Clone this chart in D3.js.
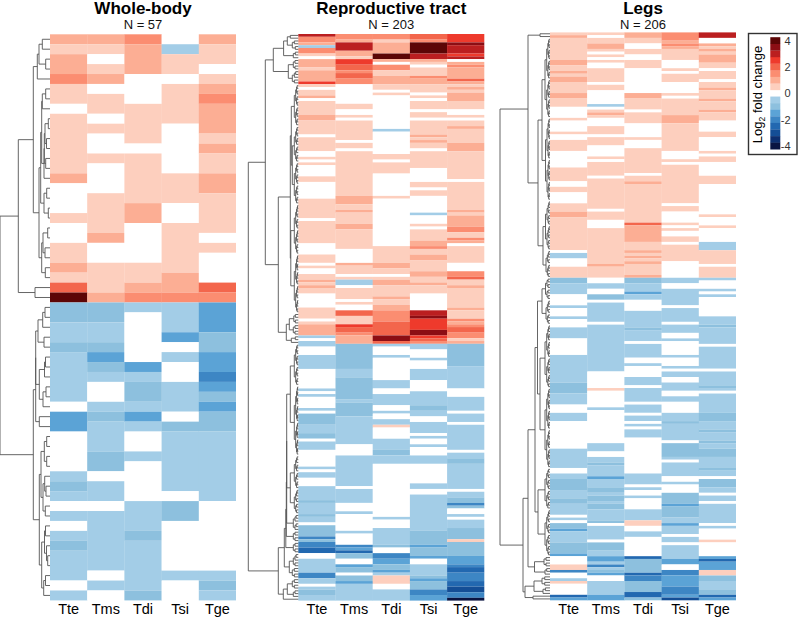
<!DOCTYPE html>
<html><head><meta charset="utf-8">
<script src="https://cdn.jsdelivr.net/npm/d3@7/dist/d3.min.js"></script>
<style>html,body{margin:0;padding:0;background:#fff}svg{display:block}text{font-family:"Liberation Sans",Arial,sans-serif}</style>
</head><body><svg id="c" width="798" height="618"></svg>
<script>
const samples=["Tte","Tms","Tdi","Tsi","Tge"];
const titles=["Whole-body","Reproductive tract","Legs"];
const counts=[57,203,206];
// values are log2 fold change in half units (2 = log2FC of 1)
const wbTte=[2,1,2,2,3,1,1,0,1,1,1,1,1,1,2,0,0,0,1,0,0,1,1,2,1,4,8,-2,-2,-1,-1,-2,-1,-1,-1,-1,-1,0,-3,-3,0,0,0,0,-1,-2,-1,0,-1,0,-1,-2,-1,-1,-1,0,-1];
const wbTms=[2,1,0,1,2,0,1,1,0,1,0,0,1,0,0,0,1,1,1,1,2,0,0,1,1,1,2,-2,-2,-1,-1,-2,-3,-2,-1,0,0,-1,-2,-1,-1,-1,-2,-2,0,-1,-1,0,-1,-1,-1,-1,-1,-1,0,-1,0];
const wbTdi=[3,2,2,2,0,0,0,1,1,1,1,0,1,1,1,1,1,2,2,0,0,0,0,1,1,2,3,-1,0,0,0,0,0,-3,-1,-2,-2,-1,-3,-1,0,0,-1,0,0,0,0,-1,-1,-1,-2,-1,-1,-1,-1,-1,-2];
const wbTsi=[0,-1,1,1,0,1,1,1,1,0,0,0,0,0,1,1,1,0,0,1,1,1,1,1,2,2,3,-1,-1,-1,-3,0,-1,0,0,-1,-1,-1,0,-2,-1,-1,-1,-1,-1,-1,0,-2,-2,0,0,0,0,0,-1,0,0];
const wbTge=[2,1,1,0,1,2,3,2,2,2,1,2,1,1,2,2,1,1,1,1,0,1,0,0,0,4,3,-3,-3,-3,-2,-2,-3,-3,-4,-3,-2,-3,-2,-2,-1,-1,-1,-1,-1,-1,-1,0,0,0,0,0,0,0,-1,-2,-1];
// [first row, value] runs, each run lasts until the next one starts
const rtTte=[[0,6],[1,3],[3,2],[4,-1],[5,3],[7,1],[8,0],[9,2],[12,1],[13,2],[17,5],[18,1],[19,0],[20,1],[22,2],[23,0],[24,1],[29,2],[31,1],[36,0],[37,1],[42,0],[44,1],[45,0],[46,1],[47,0],[51,1],[53,0],[59,1],[66,0],[67,1],[75,0],[79,1],[82,0],[83,1],[84,0],[86,1],[88,2],[89,1],[90,2],[91,1],[93,0],[98,1],[102,0],[103,1],[104,2],[108,-1],[109,0],[110,-1],[112,0],[115,-1],[120,0],[127,-1],[128,0],[129,-1],[130,0],[134,-1],[135,0],[136,-2],[140,-1],[143,-2],[145,0],[146,-1],[149,0],[155,-1],[156,0],[157,-1],[159,0],[162,-1],[167,-2],[168,-1],[172,-2],[173,-1],[175,0],[176,-2],[180,-4],[181,-2],[182,-4],[184,-5],[186,0],[188,-1],[193,-4],[195,-1],[197,0],[198,-1],[199,-2],[201,-1]];
const rtTms=[[0,3],[2,2],[3,6],[6,2],[8,1],[9,5],[11,4],[13,3],[14,4],[16,3],[18,0],[25,1],[27,0],[29,1],[30,0],[31,1],[38,0],[39,1],[41,0],[42,1],[58,2],[61,1],[63,2],[64,1],[68,2],[70,1],[77,0],[82,2],[83,1],[86,0],[87,1],[88,-1],[90,0],[91,1],[95,0],[96,1],[97,0],[99,4],[101,1],[104,5],[105,4],[107,3],[108,2],[111,-2],[120,-1],[123,-2],[131,-1],[132,-2],[137,-1],[147,0],[151,-1],[162,0],[163,-1],[168,0],[171,-1],[172,0],[178,-1],[179,0],[183,-4],[184,-3],[185,-5],[186,-2],[188,0],[190,-3],[191,-2],[193,0],[194,-2],[196,-3],[197,-1]];
const rtTdi=[[0,3],[2,1],[3,2],[7,8],[9,2],[10,0],[11,3],[13,1],[15,2],[18,1],[20,0],[21,1],[22,0],[34,-1],[35,0],[43,1],[45,0],[46,1],[50,0],[58,1],[59,0],[76,1],[82,2],[84,1],[86,0],[87,1],[88,2],[90,1],[94,2],[95,1],[97,2],[99,3],[103,4],[108,7],[110,4],[111,-1],[112,0],[115,-1],[116,0],[124,-1],[127,0],[129,-1],[133,0],[135,-1],[136,0],[138,-1],[140,1],[141,0],[145,-1],[149,-2],[151,-1],[154,0],[173,-1],[174,0],[177,-1],[183,-2],[184,0],[186,-4],[188,-3],[190,-2],[192,-3],[193,-1],[194,1],[197,0],[199,-1]];
const rtTsi=[[0,4],[2,3],[3,8],[7,6],[9,2],[10,1],[11,0],[12,1],[15,3],[16,2],[18,1],[21,0],[22,1],[23,0],[24,1],[27,0],[28,1],[30,0],[31,1],[36,2],[37,1],[38,2],[39,1],[41,0],[42,1],[48,0],[53,1],[55,0],[56,1],[58,0],[64,-1],[65,0],[68,1],[69,0],[70,1],[74,2],[76,3],[77,1],[79,2],[81,1],[85,2],[87,1],[89,2],[90,1],[93,0],[99,6],[101,7],[102,5],[106,7],[108,5],[109,4],[110,3],[111,-1],[113,0],[116,-1],[117,0],[120,-1],[124,0],[128,-1],[133,-2],[135,-1],[137,0],[139,-1],[143,0],[144,-1],[145,0],[147,-1],[148,0],[151,-1],[154,0],[161,-1],[163,0],[165,-1],[178,-2],[183,-3],[184,-2],[187,-3],[188,0],[190,-1],[194,-2],[195,-3],[196,-2],[199,-4],[201,-3]];
const rtTge=[[0,5],[3,7],[4,6],[7,5],[8,6],[9,0],[10,2],[11,3],[12,2],[16,4],[17,2],[18,1],[19,2],[20,1],[21,2],[24,1],[27,0],[29,1],[30,0],[31,1],[33,2],[34,1],[39,2],[42,1],[52,0],[53,1],[63,2],[64,1],[65,2],[69,3],[71,1],[73,3],[74,2],[75,0],[76,1],[82,0],[85,3],[87,4],[88,1],[90,2],[91,1],[98,2],[99,1],[102,3],[103,2],[104,3],[105,4],[107,3],[109,1],[110,2],[111,-2],[119,-1],[127,0],[130,-1],[135,0],[136,-1],[139,0],[140,-1],[149,0],[150,-1],[152,-2],[154,-1],[163,0],[164,-1],[166,-2],[168,-4],[169,-2],[170,0],[172,-1],[173,0],[174,-1],[177,-2],[181,1],[182,-2],[187,-3],[190,-4],[191,-5],[193,-4],[196,-5],[198,-6],[200,-4],[202,-8]];
const lgTte=[[0,1],[1,2],[2,1],[10,2],[12,1],[14,2],[15,1],[16,2],[18,1],[22,2],[24,1],[27,0],[31,1],[32,0],[36,1],[37,0],[39,1],[43,0],[49,1],[54,0],[56,1],[58,0],[62,1],[65,2],[67,1],[79,0],[80,-1],[82,0],[85,1],[89,-2],[91,-1],[95,0],[99,-1],[100,0],[103,-1],[104,0],[107,-1],[111,0],[117,-1],[127,-2],[131,-1],[135,0],[138,-1],[141,0],[151,-1],[158,0],[160,-1],[162,-2],[166,-1],[169,-2],[171,-1],[175,0],[176,-1],[177,0],[178,-2],[180,-3],[181,-1],[185,-2],[189,-3],[190,0],[193,1],[195,-4],[196,0],[198,-1],[199,1],[200,0],[204,-5],[205,-3]];
const lgTms=[[0,1],[1,0],[2,1],[4,2],[6,1],[7,0],[8,1],[9,0],[10,1],[11,0],[13,1],[18,0],[19,1],[21,0],[26,-1],[27,0],[28,1],[29,2],[30,1],[31,0],[34,1],[37,0],[38,1],[41,0],[45,1],[46,0],[47,1],[52,0],[53,1],[64,0],[65,1],[68,0],[71,1],[84,2],[85,1],[89,0],[91,-1],[93,0],[95,-2],[97,0],[98,-1],[105,0],[106,-1],[123,0],[129,1],[130,0],[136,-1],[137,0],[149,-1],[152,0],[154,-1],[156,-2],[157,-1],[161,-3],[162,-1],[165,-2],[167,-1],[168,-2],[170,-1],[171,-2],[173,-1],[177,-2],[178,0],[179,-1],[184,0],[185,-2],[188,-1],[190,-3],[192,-1],[193,-4],[194,-1],[195,-2],[196,-3],[197,0],[199,-1],[204,-3]];
const lgTdi=[[0,2],[2,1],[4,0],[6,1],[8,0],[10,1],[13,0],[22,2],[24,1],[28,0],[29,1],[33,0],[38,1],[39,0],[42,1],[51,0],[52,1],[54,2],[55,1],[69,4],[70,2],[76,1],[79,2],[80,1],[81,2],[82,1],[83,2],[84,1],[88,2],[89,-2],[91,-1],[94,-3],[95,-1],[97,0],[101,-1],[107,-2],[108,-1],[112,0],[113,-1],[118,0],[120,-1],[121,0],[125,-1],[128,0],[129,-1],[134,0],[135,-1],[138,0],[139,-1],[141,0],[142,-1],[143,0],[144,-1],[147,0],[160,-1],[164,0],[165,-1],[166,0],[168,-1],[169,0],[173,-1],[177,1],[179,0],[181,-1],[183,0],[190,-5],[191,-2],[196,-5],[197,-4],[199,-2],[203,-5],[205,-2]];
const lgTsi=[[0,3],[3,2],[4,3],[5,2],[6,1],[10,0],[13,1],[14,0],[15,1],[18,0],[22,1],[23,0],[24,1],[30,2],[33,1],[43,0],[46,1],[47,0],[48,1],[62,0],[63,1],[65,0],[69,1],[70,0],[71,1],[72,0],[74,1],[76,0],[77,1],[83,0],[89,-1],[91,0],[93,-1],[99,0],[100,-1],[105,0],[106,-1],[109,0],[111,-1],[112,0],[117,-1],[118,0],[121,-1],[122,0],[123,-1],[125,0],[127,-1],[130,0],[132,-1],[134,0],[138,-1],[141,-2],[142,-1],[148,0],[149,-2],[154,-1],[155,0],[156,-1],[161,0],[163,-1],[164,0],[167,-2],[171,-3],[172,-2],[176,-1],[178,-3],[179,-1],[182,0],[183,-1],[185,0],[186,-1],[191,-3],[193,0],[195,-4],[197,-3],[201,-4],[204,-3],[205,-6]];
const lgTge=[[0,6],[2,0],[4,2],[5,1],[6,2],[7,1],[8,2],[11,1],[13,0],[14,1],[17,0],[18,1],[20,2],[21,1],[24,2],[25,1],[28,2],[29,1],[32,0],[36,1],[38,0],[43,1],[44,0],[45,1],[47,0],[52,1],[55,0],[66,1],[67,0],[70,1],[71,0],[76,-1],[79,1],[84,0],[85,1],[89,-1],[90,0],[93,-1],[94,0],[95,-1],[96,0],[103,-1],[106,-2],[107,-1],[113,0],[114,-1],[122,0],[123,-1],[128,-2],[129,-1],[130,0],[131,-1],[138,-2],[141,-1],[144,-2],[145,-1],[148,-2],[149,-1],[151,-2],[154,-1],[158,-2],[159,-1],[161,0],[162,-2],[165,-1],[167,0],[168,-1],[170,0],[171,-1],[178,0],[179,-1],[180,0],[184,1],[185,0],[190,-3],[191,-5],[192,-3],[195,1],[197,-2],[199,-1],[202,-2],[204,-5],[205,-3]];
// dendrograms: [height, left, right]; integers are rows; [height,"from","to"] strings mark a tight row block
const wbTree=[50,[31.7,[16.7,[12.7,[11,[7.7,0,1],[4.3,2,3]],4],[11,[9.3,[8.3,[7.7,[4.3,5,6],7],[6,[5.7,[5,[1.7,8,9],[3.5,10,11]],[4.3,12,13]],14]],[6,[3.3,15,16],[1.7,17,18]]],[8.3,[7,[2.3,19,20],[5,21,22]],[4.7,23,24]]]],[15,25,26]],[16.7,[14.3,[14.3,[12,[7.3,[5,27,28],29],[6,30,31]],[10.7,[5.5,[4.5,32,33],34],[7,[4,35,36],37]]],[10.7,38,39]],[10.7,[9,[5.7,[3.3,40,41],[3.3,42,43]],[7,[5.3,44,[4,45,46]],[4.7,47,48]]],[8.3,[5.5,[4.5,49,50],[3.5,51,[2.3,52,53]]],[6.3,[4.5,54,55],56]]]]];
const rtTree=[50,[33,[25,[14.7,[11,[8,0,1],[6,[4,2,3],[3,4,5]]],[5,[3,6,7],8]],[10,[5,"9","12"],[6,"13","17"]]],[20,[8,[7,[4,"18","32"],[6,[4,"33","45"],[4,"46","60"]]],[7.5,[4,"61","78"],[4,"79","99"]]],[12,[9,[4.5,"100","103"],[5,"104","107"]],[7,[3,"108","109"],110]]]],[20,[14,[12.5,[12,[11.6,[11.6,[8,[4,"111","125"],[4,"126","150"]],[8,[4,"151","162"],[4,"163","171"]]],[5,"172","177"]],[5,"178","181"]],[5,"182","185"]],[9,[5,"186","190"],[6,"191","194"]]],[15,[11,[6,"195","198"],[5,"199","201"]],202]]];
const lgTree=[50,[22,[10,0,1],[12,[8,[5,"2","30"],[4.5,"31","60"]],[7,[4.5,"61","78"],[4,"79","88"]]]],[27,[22,[15,[12.5,[8,[4.5,"89","96"],[4,"97","105"]],[10,[5,"106","128"],[5,"129","157"]]],[12,[5,"158","172"],[5,"173","189"]]],[15.5,[6,"190","193"],[5,"194","196"]]],[25,[16,[8,"197","200"],[7,"201","203"]],[17,204,205]]]];
const redShades=["#fdcfbe","#fcae94","#fb8d71","#f3664c","#ee3a2c","#bb1f20","#8c0e14","#5c0606"];
const blueShades=["#a3cde7","#8dc0de","#5ba3d6","#3d86c4","#2268b0","#144e96","#0d2f70","#0a1442"];

const svg=d3.select("#c");
const thresholds=[-3.75,-3.25,-2.75,-2.25,-1.75,-1.25,-.75,-.25,.25,.75,1.25,1.75,2.25,2.75,3.25,3.75];
const color=d3.scaleThreshold().domain(thresholds).range([...blueShades.slice().reverse(),"#ffffff",...redShades]);
const expand=(n,r)=>d3.range(n).map(i=>{let v=0;for(const p of r){if(p[0]<=i)v=p[1];else break}return v});
function toRuns(col){
  const out=[];
  col.forEach((v,i)=>{const l=out[out.length-1];if(l&&l.v===v)l.end=i+1;else out.push({start:i,end:i+1,v})});
  return out;
}
function blockTree(a,b,h){
  if(a===b)return a;
  const m=Math.floor((a+b)/2),k=h*.66;
  return [h,blockTree(a,m,k),blockTree(m+1,b,k)];
}
function norm(t){
  if(typeof t==="number")return {row:t};
  if(typeof t[1]==="string")return norm(blockTree(+t[1],+t[2],t[0]));
  return {h:t[0],kids:[norm(t[1]),norm(t[2])]};
}
function panel(o){
  const g=svg.append("g");
  const x=d3.scaleBand().domain(samples).range([o.left,o.left+186]);
  const y=d3.scaleLinear().domain([0,o.n]).range([o.top,o.bottom]);
  o.cols.forEach((col,j)=>{
    g.append("g").selectAll("rect").data(toRuns(col)).join("rect")
      .attr("x",x(samples[j])).attr("width",x.bandwidth()+(j<4?.25:0))
      .attr("y",d=>y(d.start)).attr("height",d=>y(d.end)-y(d.start))
      .attr("fill",d=>color(d.v/2));
  });
  const hx=d3.scaleLinear().domain([0,50]).range([o.left,o.left-50]);
  const root=d3.hierarchy(norm(o.tree),d=>d.kids);
  root.eachAfter(n=>{
    if(n.children){n.py=d3.mean(n.children,c=>c.py);n.px=hx(n.data.h)}
    else{n.py=y(n.data.row+.5);n.px=o.left}
  });
  const pth=d3.path();
  root.each(n=>{
    if(!n.children)return;
    const [a,b]=n.children;
    pth.moveTo(a.px,a.py);pth.lineTo(n.px,a.py);pth.lineTo(n.px,b.py);pth.lineTo(b.px,b.py);
  });
  g.append("path").attr("d",pth.toString()).attr("fill","none").attr("stroke","#555").attr("stroke-width",.9);
  const cx=o.left+93;
  g.append("text").attr("x",cx).attr("y",13.5).attr("text-anchor","middle").attr("font-size",17).attr("font-weight","bold").attr("fill","#000").text(o.title);
  g.append("text").attr("x",cx).attr("y",28.5).attr("text-anchor","middle").attr("font-size",13).attr("fill","#111").text("N = "+o.n);
  const ax=g.append("g").attr("transform","translate(0,"+(o.bottom)+")").call(d3.axisBottom(x).tickSize(0).tickPadding(3));
  ax.select(".domain").remove();
  ax.selectAll("text").attr("font-size",14.5).attr("fill","#000").style("font-family",'"Liberation Sans",Arial,sans-serif').attr("dy","0.72em");
}
const wbCols=[wbTte,wbTms,wbTdi,wbTsi,wbTge];
const rtCols=[rtTte,rtTms,rtTdi,rtTsi,rtTge].map(r=>expand(counts[1],r));
const lgCols=[lgTte,lgTms,lgTdi,lgTsi,lgTge].map(r=>expand(counts[2],r));
panel({title:titles[0],n:counts[0],left:50,top:34.3,bottom:600.4,cols:wbCols,tree:wbTree});
panel({title:titles[1],n:counts[1],left:298.3,top:34,bottom:600.6,cols:rtCols,tree:rtTree});
panel({title:titles[2],n:counts[2],left:550,top:32.4,bottom:600.3,cols:lgCols,tree:lgTree});

// legend
const lg=svg.append("g");
lg.append("rect").attr("x",748.5).attr("y",33.5).attr("width",48.5).attr("height",121).attr("fill","#fff").attr("stroke","#333").attr("stroke-width",1.4);
const ly=d3.scaleLinear().domain([-4,4]).range([146,40.5]);
const steps=d3.range(1,9);
[[1,redShades],[-1,blueShades]].forEach(([s,sh])=>{
  lg.append("g").selectAll("rect").data(steps).join("rect").attr("x",770.3).attr("width",10)
    .attr("y",d=>s>0?ly(d/2+.25):ly(-d/2+.25)).attr("height",ly(0)-ly(.5)+.2).attr("fill",d=>sh[d-1]);
});
const la=lg.append("g").attr("transform","translate(790.5,0)").call(d3.axisLeft(ly).tickValues([-4,-2,0,2,4]).tickSize(0).tickPadding(0).tickFormat(d=>String(d)));
la.select(".domain").remove();
la.selectAll("text").attr("font-size",11).attr("fill","#333").style("font-family",'"Liberation Sans",Arial,sans-serif');
const t=lg.append("text").attr("transform","translate(761.5,94.5) rotate(-90)").attr("text-anchor","middle").attr("font-size",13).attr("fill","#000");
t.append("tspan").text("Log");
t.append("tspan").attr("font-size",8.5).attr("dy",3).text("2");
t.append("tspan").attr("dy",-3).text(" fold change");
</script></body></html>
